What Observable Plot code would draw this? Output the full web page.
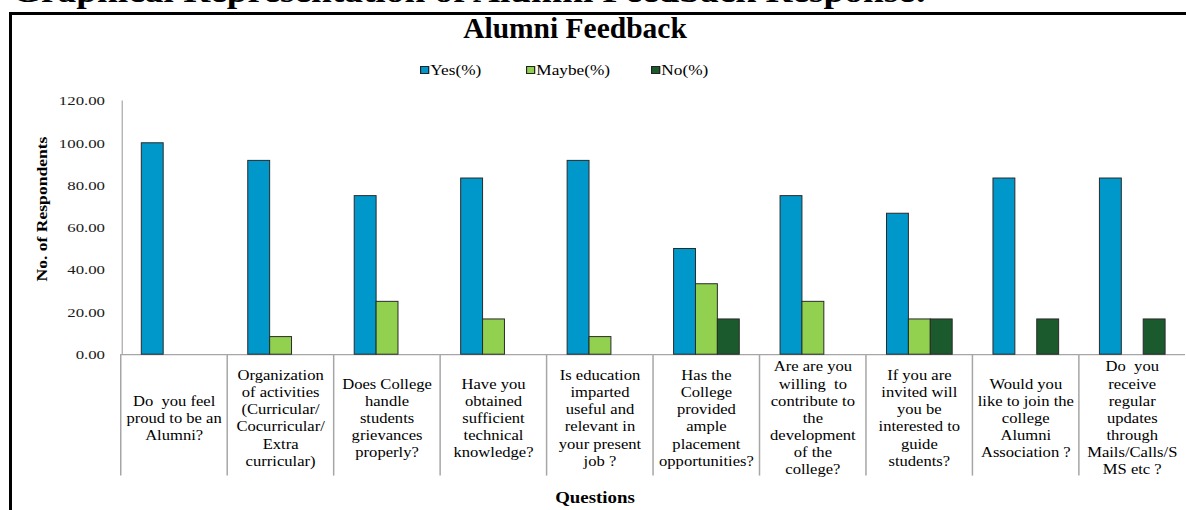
<!DOCTYPE html>
<html>
<head>
<meta charset="utf-8">
<script src="https://cdn.jsdelivr.net/npm/d3@7"></script>
<script src="https://cdn.jsdelivr.net/npm/@observablehq/plot@0.6"></script>
<style>
  html, body { margin: 0; padding: 0; background: #fff; overflow: hidden; width: 1186px; height: 510px; }
  #wrap { position: relative; width: 1186px; height: 510px; overflow: hidden; font-family: "Liberation Serif", "Times New Roman", serif; color: #000; }
  #heading { position: absolute; left: 12px; top: -29px; font-size: 32px; line-height: 40px; font-weight: bold; white-space: nowrap; transform-origin: left top; transform: scaleX(1.167); }
  #box { position: absolute; left: 9px; top: 12px; width: 1300px; height: 600px; border-left: 3px solid #000; border-top: 3px solid #000; }
  #chart { position: absolute; left: 0; top: 0; }
  #title { position: absolute; left: 0; width: 1150px; top: 12px; text-align: center; font-size: 29.5px; line-height: 32px; font-weight: bold; }
  #legend { position: absolute; left: 420px; top: 61px; display: flex; gap: 0; font-size: 15px; line-height: 18px; }
  .item { display: flex; align-items: center; transform-origin: left center; transform: scaleX(1.15); }
  .sw { width: 6px; height: 6px; border: 1px solid #222; margin-right: 1px; }
  #ytitle { position: absolute; left: 42px; top: 209px; font-size: 15px; font-weight: bold; white-space: nowrap; transform: translate(-50%, -50%) rotate(-90deg) scaleX(1.17); }
  #xtitle { position: absolute; left: 595px; top: 498px; font-size: 16px; font-weight: bold; white-space: nowrap; transform: translate(-50%, -50%) scaleX(1.18); }
</style>
</head>
<body>
<div id="wrap">
  <div id="heading">Graphical Representation of Alumni Feedback Response:</div>
  <div id="box"></div>
  <div id="chart"></div>
  <div id="title">Alumni Feedback</div>
  <div id="legend"></div>
  <div id="ytitle">No. of Respondents</div>
  <div id="xtitle">Questions</div>
</div>
<script>
// ---- data ----
const categories = [
  "Do  you feel\nproud to be an\nAlumni?",
  "Organization\nof activities\n(Curricular/\nCocurricular/\nExtra\ncurricular)",
  "Does College\nhandle\nstudents\ngrievances\nproperly?",
  "Have you\nobtained\nsufficient\ntechnical\nknowledge?",
  "Is education\nimparted\nuseful and\nrelevant in\nyour present\njob ?",
  "Has the\nCollege\nprovided\nample\nplacement\nopportunities?",
  "Are are you\nwilling  to\ncontribute to\nthe\ndevelopment\nof the\ncollege?",
  "If you are\ninvited will\nyou be\ninterested to\nguide\nstudents?",
  "Would you\nlike to join the\ncollege\nAlumni\nAssociation ?",
  "Do  you\nreceive\nregular\nupdates\nthrough\nMails/Calls/S\nMS etc ?"
];
const series = ["Yes(%)", "Maybe(%)", "No(%)"];
const yesValues   = [100, 91.67, 75, 83.33, 91.67, 50, 75, 66.67, 83.33, 83.33];
const maybeValues = [0, 8.33, 25, 16.67, 8.33, 33.33, 25, 16.67, 0, 0];
const noValues    = [0, 0, 0, 0, 0, 16.67, 0, 16.67, 16.67, 16.67];
const yTicks = [0, 20, 40, 60, 80, 100, 120];
const colors = ["#0097cb", "#92d050", "#1b5a2d"];

// ---- table built from the arrays ----
const valuesBySeries = [yesValues, maybeValues, noValues];
const rows = [];
categories.forEach((q, i) => series.forEach((s, j) => rows.push({q, s, v: valuesBySeries[j][i]})));

// ---- style / layout ----
const W = 1192, ML = 119, PO = 0.833;
const step = (W - ML) / categories.length;
const bw = step / (series.length + 2 * PO);
const axisGrey = "#a6a6a6";

const chart = Plot.plot({
  width: W, height: 510,
  marginTop: 101, marginBottom: 154, marginLeft: ML, marginRight: 0,
  style: {fontFamily: "'Liberation Serif', serif", fontSize: "14px", color: "#000", background: "transparent", overflow: "visible"},
  fx: {domain: categories, padding: 0, axis: null, label: null},
  x: {domain: series, paddingInner: 0, paddingOuter: PO, axis: null},
  y: {domain: [0, 120], axis: null},
  color: {domain: series, range: colors},
  marks: [
    Plot.ruleY([0], {stroke: axisGrey, strokeWidth: 1.2}),
    Plot.ruleX([categories[0]], {fx: d => d, x: () => series[0], stroke: axisGrey, strokeWidth: 1.2, dx: -(PO * bw + bw / 2)}),
    Plot.axisFx({anchor: "bottom", label: null, tickSize: 122, tickFormat: () => "", stroke: axisGrey, strokeWidth: 1.5, dx: -step / 2, tickPadding: 0}),
    Plot.axisY({anchor: "left", label: null, ticks: yTicks, tickFormat: d3.format(".2f"), tickSize: 0, tickPadding: 16, fontSize: 13.5, fill: "#1a1a1a"}),
    Plot.barY(rows.filter(d => d.v > 0), {fx: "q", x: "s", y: "v", fill: "s", stroke: "#2a2a2a", strokeWidth: 1}),
    Plot.text(categories, {fx: d => d, text: d => d, frameAnchor: "bottom", dy: 63, lineAnchor: "middle", lineHeight: 1.19, fontSize: 14.5, fill: "#000"})
  ]
});

// stretch text horizontally like the reference rendering
chart.querySelectorAll("text").forEach(t => {
  const tr = t.getAttribute("transform") || "";
  const isTick = t.textContent.includes(".00");
  t.setAttribute("transform", tr + (isTick ? " scale(1.25,1)" : " scale(1.15,1)"));
});
document.getElementById("chart").appendChild(chart);

// legend
const legend = document.getElementById("legend");
const gaps = [0, 53, 52];
series.forEach((s, i) => {
  const item = document.createElement("div");
  item.className = "item";
  item.style.marginLeft = gaps[i] + "px";
  const sw = document.createElement("div");
  sw.className = "sw";
  sw.style.background = colors[i];
  const lab = document.createElement("span");
  lab.textContent = s;
  item.appendChild(sw);
  item.appendChild(lab);
  legend.appendChild(item);
});
</script>
</body>
</html>
